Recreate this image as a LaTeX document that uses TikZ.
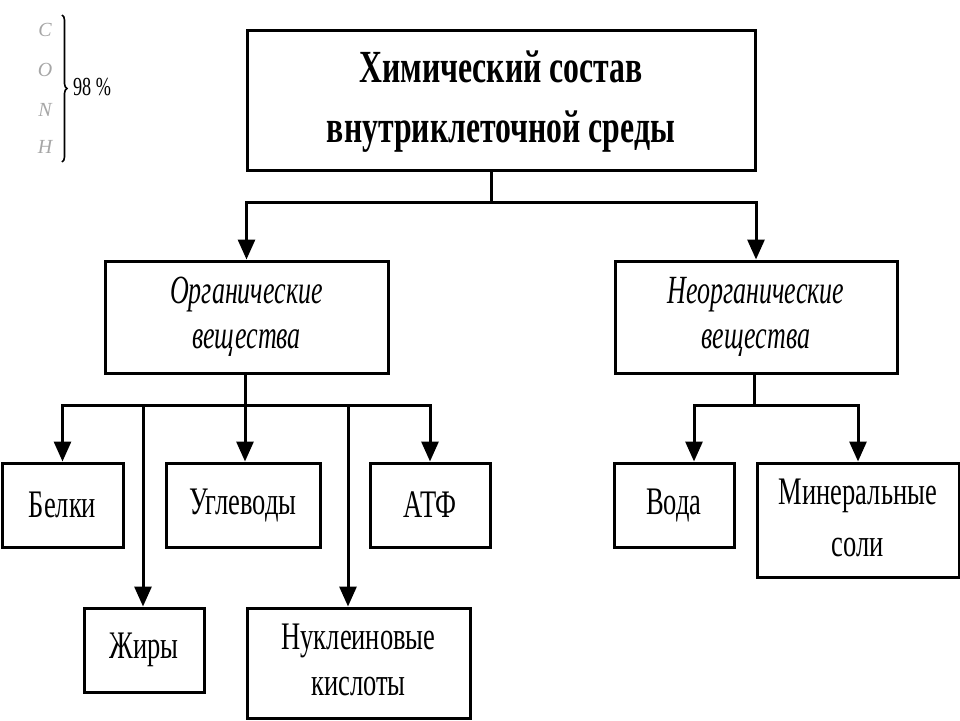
\documentclass[tikz,border=0pt]{standalone}
\usepackage{fontspec}
\setmainfont{Liberation Serif}
\usetikzlibrary{arrows.meta,decorations.pathreplacing}
\newcommand{\sqz}[2][0.68]{\scalebox{#1}[1]{#2}}
\begin{document}
\begin{tikzpicture}[x=1pt,y=-1pt,
  box/.style={draw,line width=3pt,inner sep=0pt},
  link/.style={line width=3pt},
  arr/.style={line width=3pt,-{Triangle[width=17pt,length=20pt]}},
  elem/.style={text=black!35,font=\itshape\fontsize{20}{20}\selectfont}]
\useasboundingbox (0,0) rectangle (960,720);
% title
\node[box,minimum width=508,minimum height=140] (top) at (501,100)
  {\sqz[0.69]{\bfseries\fontsize{46}{60}\selectfont\begin{tabular}{@{}c@{}}Химический состав\\внутриклеточной среды\end{tabular}}};
% second level
\node[box,minimum width=283,minimum height=112] (org) at (246.5,317)
  {\sqz[0.65]{\itshape\fontsize{40}{45}\selectfont\begin{tabular}{@{}c@{}}Органические\\вещества\end{tabular}}};
\node[box,minimum width=282,minimum height=112] (inorg) at (756,317)
  {\sqz[0.65]{\itshape\fontsize{40}{45}\selectfont\begin{tabular}{@{}c@{}}Неорганические\\вещества\end{tabular}}};
% third level
\node[box,minimum width=121,minimum height=84] (belki) at (62.5,505)
  {\sqz{\fontsize{39}{46}\selectfont Белки}};
\node[box,minimum width=154,minimum height=84] (ugl) at (243,505)
  {\sqz{\fontsize{39}{46}\selectfont Углеводы}};
\node[box,minimum width=120,minimum height=84] (atf) at (430,505)
  {\sqz{\fontsize{39}{46}\selectfont АТФ}};
\node[box,minimum width=120,minimum height=84] (zhiry) at (144,650)
  {\sqz{\fontsize{39}{46}\selectfont Жиры}};
\node[box,minimum width=223,minimum height=110] (nuk) at (358.5,663)
  {\sqz{\fontsize{39}{46}\selectfont\begin{tabular}{@{}c@{}}Нуклеиновые\\кислоты\end{tabular}}};
\node[box,minimum width=120,minimum height=84] (voda) at (674,505)
  {\sqz{\fontsize{39}{46}\selectfont Вода}};
\node[box,minimum width=202,minimum height=114] (min) at (858,520)
  {\sqz{\fontsize{39}{52}\selectfont\begin{tabular}{@{}c@{}}Минеральные\\соли\end{tabular}}};
% connectors level 1
\coordinate (j1) at (491,202);
\draw[link] (top.south -| j1) -- (j1);
\draw[arr] (j1) -| (org.north);
\draw[arr] (j1) -| (inorg.north);
% connectors level 2 (organic)
\coordinate (j2) at (245,405);
\coordinate (jz) at (143,405);
\coordinate (jn) at (348,405);
\draw[link] (org.south -| j2) -- (j2);
\draw[arr] (j2) -| (belki.north);
\draw[arr] (j2) -| (atf.north);
\draw[arr] (j2) -- (j2 |- ugl.north);
\draw[arr] (jz) -- (jz |- zhiry.north);
\draw[arr] (jn) -- (jn |- nuk.north);
% connectors level 2 (inorganic)
\coordinate (j3) at (754,405);
\coordinate (jv) at (694,405);
\draw[link] (inorg.south -| j3) -- (j3);
\draw[arr] (j3) -| (min.north);
\draw[arr] (j3) -- (jv) -- (jv |- voda.north);
% elements
\node[elem] (c) at (45,30) {C};
\node[elem] (o) at (45,70) {O};
\node[elem] (n) at (45,110) {N};
\node[elem] (h) at (45,147) {H};
\draw[line width=1.6pt,decorate,decoration={brace,amplitude=5pt}] (62,15) -- (62,162);
\node[font=\fontsize{26}{26}\selectfont] (pct) at (92,87) {\sqz[0.7]{98 \%}};
\end{tikzpicture}
\end{document}
